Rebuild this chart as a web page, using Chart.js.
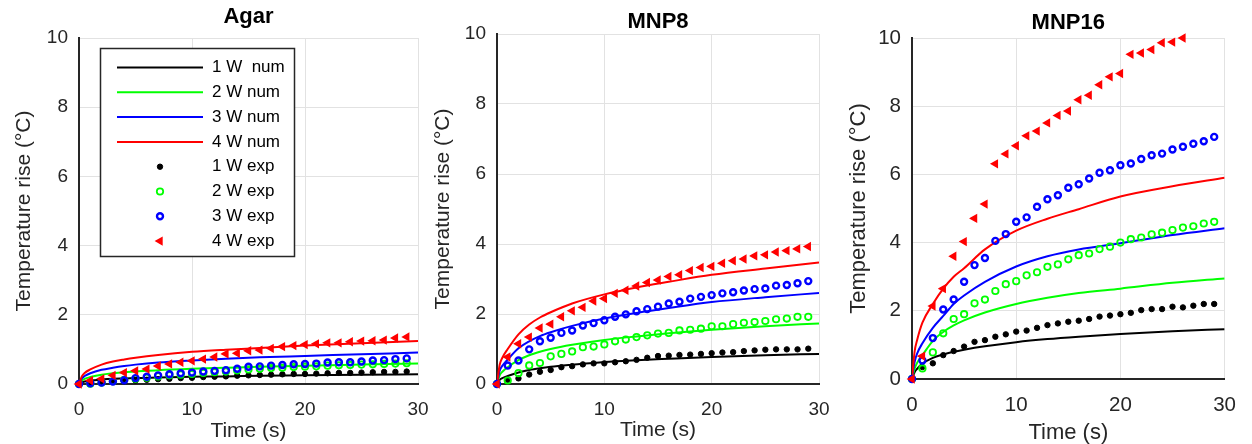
<!DOCTYPE html>
<html><head><meta charset="utf-8">
<script src="https://cdn.jsdelivr.net/npm/chart.js@4.4.1/dist/chart.umd.min.js"></script>
<style>
html,body{margin:0;padding:0;background:#fff;width:1252px;height:444px;overflow:hidden}
canvas{position:absolute;left:0;top:0}
</style></head>
<body>
<canvas id="c1" width="1252" height="444"></canvas>
<canvas id="c2" width="1252" height="444"></canvas>
<canvas id="c3" width="1252" height="444"></canvas>
<script>
// ---------- data ----------
const tNum = [0, 0.25, 0.5, 1, 2, 3, 4, 5, 7, 10, 13, 16, 20, 25, 30];
const tExp = [0,1,2,3,4,5,6,7,8,9,10,11,12,13,14,15,16,17,18,19,20,21,22,23,24,25,26,27,28,29];
const legendLabels = ['1 W  num','2 W num','3 W num','4 W num','1 W exp','2 W exp','3 W exp','4 W exp'];
const xTicks = [0, 10, 20, 30];
const yTicks = [0, 2, 4, 6, 8, 10];

// Agar
const agarNum1 = [0,0.05,0.07,0.10,0.13,0.15,0.16,0.17,0.19,0.21,0.22,0.24,0.25,0.27,0.28];
const agarNum2 = [0,0.10,0.15,0.20,0.27,0.31,0.34,0.36,0.40,0.44,0.47,0.50,0.53,0.56,0.59];
const agarNum3 = [0,0.16,0.23,0.31,0.41,0.47,0.52,0.56,0.62,0.68,0.73,0.77,0.81,0.86,0.91];
const agarNum4 = [0,0.22,0.32,0.42,0.56,0.65,0.71,0.76,0.84,0.93,0.99,1.04,1.11,1.18,1.24];
const agarExp1 = [0,0.02,0.04,0.06,0.08,0.10,0.12,0.14,0.15,0.17,0.18,0.20,0.21,0.22,0.24,0.25,0.26,0.27,0.28,0.29,0.29,0.30,0.31,0.32,0.32,0.33,0.34,0.35,0.35,0.36];
const agarExp2 = [0,0.01,0.04,0.08,0.12,0.15,0.18,0.22,0.25,0.27,0.29,0.32,0.34,0.36,0.39,0.42,0.44,0.46,0.47,0.49,0.50,0.51,0.53,0.54,0.55,0.56,0.57,0.58,0.59,0.60];
const agarExp3 = [0,0.02,0.04,0.07,0.11,0.17,0.21,0.25,0.28,0.31,0.33,0.36,0.38,0.40,0.44,0.50,0.51,0.53,0.55,0.57,0.58,0.59,0.62,0.63,0.63,0.65,0.68,0.69,0.72,0.74];
const agarExp4 = [0,0.10,0.15,0.25,0.33,0.38,0.43,0.52,0.58,0.63,0.67,0.72,0.78,0.87,0.89,0.96,0.98,1.03,1.08,1.11,1.14,1.16,1.19,1.19,1.22,1.24,1.25,1.27,1.33,1.36];

// MNP8
const mnp8Num1 = [0,0.12,0.17,0.23,0.33,0.40,0.45,0.49,0.55,0.63,0.68,0.72,0.77,0.82,0.86];
const mnp8Num2 = [0,0.25,0.35,0.48,0.68,0.82,0.92,1.00,1.12,1.26,1.36,1.45,1.55,1.65,1.73];
const mnp8Num3 = [0,0.38,0.52,0.70,1.02,1.22,1.37,1.48,1.66,1.87,2.03,2.17,2.34,2.48,2.60];
const mnp8Num4 = [0,0.55,0.75,1.00,1.42,1.70,1.90,2.05,2.30,2.56,2.76,2.92,3.12,3.30,3.47];
const mnp8Exp1 = [0,0.12,0.16,0.27,0.35,0.40,0.48,0.51,0.56,0.59,0.59,0.62,0.65,0.69,0.75,0.80,0.81,0.83,0.84,0.86,0.88,0.90,0.91,0.94,0.96,0.98,0.99,0.99,0.99,1.01];
const mnp8Exp2 = [0,0.10,0.31,0.53,0.60,0.79,0.86,0.93,1.05,1.07,1.13,1.22,1.27,1.34,1.39,1.44,1.46,1.53,1.55,1.58,1.65,1.65,1.71,1.75,1.77,1.80,1.85,1.87,1.92,1.92];
const mnp8Exp3 = [0,0.53,0.67,0.99,1.22,1.32,1.46,1.53,1.67,1.74,1.82,1.92,1.99,2.08,2.14,2.21,2.30,2.35,2.44,2.49,2.54,2.59,2.62,2.67,2.71,2.73,2.81,2.83,2.88,2.94];
const mnp8Exp4 = [0,0.77,1.15,1.34,1.60,1.71,1.92,2.09,2.19,2.37,2.44,2.59,2.68,2.80,2.90,2.97,3.07,3.12,3.24,3.33,3.36,3.45,3.52,3.57,3.66,3.69,3.77,3.81,3.86,3.93];

// MNP16
const mnp16Num1 = [0,0.20,0.30,0.45,0.62,0.72,0.80,0.86,0.96,1.08,1.17,1.24,1.32,1.40,1.46];
const mnp16Num2 = [0,0.30,0.48,0.70,1.12,1.38,1.57,1.72,1.95,2.20,2.38,2.52,2.65,2.82,2.95];
const mnp16Num3 = [0,0.50,0.75,1.05,1.50,1.85,2.20,2.45,2.85,3.30,3.60,3.80,3.98,4.22,4.42];
const mnp16Num4 = [0,0.80,1.15,1.65,2.20,2.65,3.00,3.25,3.80,4.35,4.70,4.98,5.35,5.65,5.90];
const mnp16Exp1 = [0,0.35,0.46,0.70,0.82,0.95,1.09,1.14,1.24,1.31,1.39,1.42,1.50,1.58,1.63,1.68,1.71,1.76,1.83,1.86,1.90,1.94,2.02,2.05,2.05,2.12,2.10,2.15,2.20,2.20];
const mnp16Exp2 = [0,0.31,0.78,1.34,1.76,1.90,2.22,2.33,2.58,2.78,2.87,3.04,3.13,3.29,3.36,3.51,3.63,3.68,3.81,3.88,4.00,4.10,4.15,4.24,4.29,4.37,4.44,4.48,4.56,4.61];
const mnp16Exp3 = [0,0.54,1.20,2.04,2.33,2.85,3.34,3.55,4.05,4.25,4.61,4.74,5.05,5.27,5.39,5.61,5.71,5.88,6.05,6.12,6.27,6.32,6.45,6.56,6.61,6.73,6.81,6.90,6.97,7.10];
const mnp16Exp4 = [0,0.67,2.14,2.65,3.60,4.03,4.71,5.13,6.31,6.60,6.84,7.13,7.27,7.51,7.73,7.86,8.19,8.32,8.63,8.86,8.96,9.52,9.56,9.66,9.86,9.88,10.00];

// ---------- styles ----------
const FONT = '"Liberation Sans", Arial, Helvetica, sans-serif';
const colors = ['#000000', '#00ff00', '#0000ff', '#ff0000'];
const AXIS = '#262626';

function pts(xs, ys) { return ys.map((y, i) => ({x: xs[i], y})); }

function buildDatasets(nums, exps) {
  const ds = [];
  nums.forEach((ys, i) => ds.push({
    label: legendLabels[i], data: pts(tNum, ys), showLine: true,
    borderColor: colors[i], backgroundColor: colors[i], borderWidth: 2,
    pointRadius: 0, cubicInterpolationMode: 'monotone', order: 8 - i
  }));
  const styles = [
    {pointStyle: 'circle', pointRadius: 2.7, pointBorderWidth: 1, fill: '#000000'},
    {pointStyle: 'circle', pointRadius: 3.2, pointBorderWidth: 1.8, fill: 'rgba(0,0,0,0)'},
    {pointStyle: 'circle', pointRadius: 3.0, pointBorderWidth: 2.4, fill: 'rgba(0,0,0,0)'},
    {pointStyle: 'triangle', pointRadius: 3.6, pointBorderWidth: 1.8, fill: '#ff0000', rot: -90}
  ];
  exps.forEach((ys, i) => {
    const s = styles[i];
    ds.push({
      label: legendLabels[4 + i], data: pts(tExp, ys), showLine: false,
      borderColor: colors[i], backgroundColor: s.fill,
      pointStyle: s.pointStyle, pointRadius: s.pointRadius, pointBorderWidth: s.pointBorderWidth,
      pointBackgroundColor: s.fill, pointBorderColor: colors[i], pointRotation: s.rot || 0,
      borderWidth: s.pointBorderWidth, clip: false, order: 4 - i
    });
  });
  return ds;
}

const legendPlugin = {
  id: 'boxLegend',
  afterDatasetsDraw(chart) {
    const ctx = chart.ctx;
    ctx.save();
    ctx.fillStyle = '#ffffff';
    ctx.fillRect(100.5, 48.5, 194, 208);
    ctx.lineWidth = 1.5; ctx.strokeStyle = AXIS;
    ctx.strokeRect(100.5, 48.5, 194, 208);
    ctx.font = '17px ' + FONT;
    ctx.textBaseline = 'middle'; ctx.textAlign = 'left';
    chart.data.datasets.forEach((ds, i) => {
      const y = 67.5 + i * 24.8;
      if (ds.showLine) {
        ctx.strokeStyle = ds.borderColor; ctx.lineWidth = ds.borderWidth;
        ctx.beginPath(); ctx.moveTo(117, y); ctx.lineTo(203, y); ctx.stroke();
      } else {
        ctx.fillStyle = ds.pointBackgroundColor; ctx.strokeStyle = ds.pointBorderColor;
        ctx.lineWidth = ds.pointBorderWidth;
        Chart.helpers.drawPoint(ctx, {pointStyle: ds.pointStyle, radius: ds.pointRadius,
          rotation: ds.pointRotation, borderWidth: ds.pointBorderWidth}, 160, y);
      }
      ctx.fillStyle = '#000000';
      ctx.fillText(ds.label, 212, y);
    });
    ctx.restore();
  }
};

function makePanel(id, p) {
  const padLeft = p.yTitleX - p.axisFont / 2;
  const wy = p.area.left - padLeft;
  const hx = 444 - p.area.bottom;
  new Chart(document.getElementById(id), {
    type: 'line',
    data: {datasets: buildDatasets(p.nums, p.exps)},
    plugins: p.legend ? [legendPlugin] : [],
    options: {
      responsive: false, animation: false, events: [], devicePixelRatio: 1,
      layout: {padding: {left: padLeft, right: 1252 - p.area.right, top: 0, bottom: 0}},
      plugins: {
        legend: {display: false}, tooltip: {enabled: false},
        title: {display: true, text: p.title, fullSize: false, color: '#000',
          font: {family: FONT, size: 22, weight: 'bold', lineHeight: 1},
          padding: {top: p.titleCenter - 11, bottom: p.area.top - (p.titleCenter - 11) - 22}}
      },
      scales: {
        x: {
          type: 'linear', min: 0, max: 30,
          afterBuildTicks: s => { s.ticks = xTicks.map(v => ({value: v})); },
          afterFit: s => { s.height = hx; },
          grid: {color: '#e2e2e2', lineWidth: 1, drawTicks: false},
          border: {color: AXIS, width: 2},
          ticks: {color: AXIS, padding: 16, maxRotation: 0, autoSkip: false,
            font: {family: FONT, size: p.tickFont, lineHeight: 1}},
          title: {display: true, text: 'Time (s)', color: AXIS,
            font: {family: FONT, size: p.axisFont, lineHeight: 1},
            padding: {top: 0, bottom: 444 - p.xTitleY - p.axisFont / 2}}
        },
        y: {
          type: 'linear', min: 0, max: 10,
          afterBuildTicks: s => { s.ticks = yTicks.map(v => ({value: v})); },
          afterFit: s => { s.width = wy; },
          grid: {color: '#e2e2e2', lineWidth: 1, drawTicks: false},
          border: {color: AXIS, width: 2},
          ticks: {color: AXIS, padding: 11, autoSkip: false,
            font: {family: FONT, size: p.tickFont, lineHeight: 1}},
          title: {display: true, text: 'Temperature rise (\u00B0C)', color: AXIS,
            font: {family: FONT, size: p.axisFont, lineHeight: 1},
            padding: {top: 0, bottom: 0}}
        }
      }
    }
  });
}

makePanel('c1', {title: 'Agar', titleCenter: 17, legend: true,
  area: {left: 79, right: 418, top: 38, bottom: 384},
  yTitleX: 24, xTitleY: 431, tickFont: 19, axisFont: 21,
  nums: [agarNum1, agarNum2, agarNum3, agarNum4], exps: [agarExp1, agarExp2, agarExp3, agarExp4]});
makePanel('c2', {title: 'MNP8', titleCenter: 21.5, legend: false,
  area: {left: 497, right: 819, top: 34, bottom: 384},
  yTitleX: 443, xTitleY: 430, tickFont: 19, axisFont: 21,
  nums: [mnp8Num1, mnp8Num2, mnp8Num3, mnp8Num4], exps: [mnp8Exp1, mnp8Exp2, mnp8Exp3, mnp8Exp4]});
makePanel('c3', {title: 'MNP16', titleCenter: 23, legend: false,
  area: {left: 912, right: 1229, top: 38, bottom: 379},
  yTitleX: 859, xTitleY: 433, tickFont: 20.5, axisFont: 22,
  nums: [mnp16Num1, mnp16Num2, mnp16Num3, mnp16Num4], exps: [mnp16Exp1, mnp16Exp2, mnp16Exp3, mnp16Exp4]});
</script>
</body></html>
